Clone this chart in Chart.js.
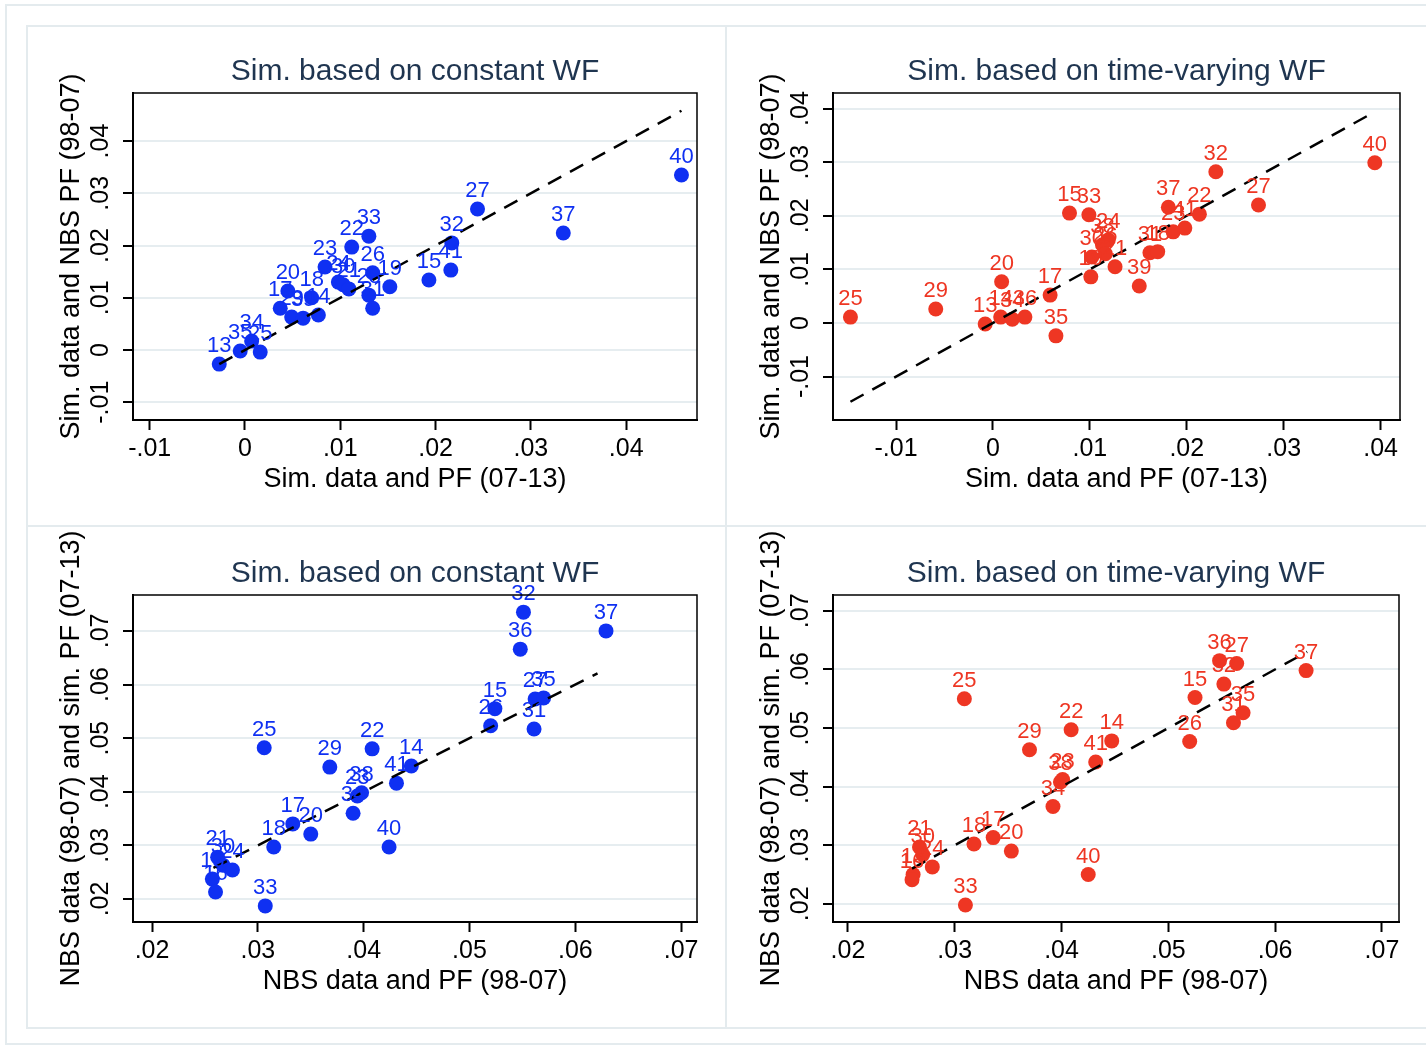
<!DOCTYPE html>
<html>
<head>
<meta charset="utf-8">
<script src="https://cdn.jsdelivr.net/npm/chart.js"></script>
<style>
  body { margin: 0; background: #fff; width: 1426px; height: 1048px; overflow: hidden; position: relative; }
  .frame { position: absolute; border: 2px solid #e4ebee; box-sizing: border-box; }
  canvas { position: absolute; }
</style>
</head>
<body>
<div class="frame" style="left:5px;top:4px;width:1440px;height:1041px"></div>
<div class="frame" style="left:26px;top:25px;width:701px;height:502px"></div>
<div class="frame" style="left:725px;top:25px;width:720px;height:502px"></div>
<div class="frame" style="left:26px;top:525px;width:701px;height:504px"></div>
<div class="frame" style="left:725px;top:525px;width:720px;height:504px"></div>

<canvas id="tl" width="698" height="500" style="left:27px;top:26px"></canvas>
<canvas id="tr" width="698" height="500" style="left:727px;top:26px"></canvas>
<canvas id="bl" width="698" height="500" style="left:27px;top:528px"></canvas>
<canvas id="br" width="698" height="500" style="left:727px;top:528px"></canvas>

<script>
const FONT = '"Liberation Sans", Arial, Helvetica, sans-serif';
const BLUE = '#0f30f2';
const RED = '#ee3623';

// top row: sim. data (07-13) vs sim. data (98-07)
const tlIds = [13, 35, 34, 25, 17, 20, 29, 39, 18, 14, 23, 24, 30, 21, 22, 33, 26, 28, 31, 19, 15, 41, 32, 27, 37, 40];
const tlX = [-0.0027, -0.0005, 0.0007, 0.0016, 0.0037, 0.0045, 0.0049, 0.0061, 0.0070, 0.0077, 0.0084, 0.0098, 0.0103, 0.0109, 0.0112, 0.0130, 0.0134, 0.0130, 0.0134, 0.0152, 0.0193, 0.0216, 0.0217, 0.0244, 0.0334, 0.0458];
const tlY = [-0.0027, -0.0002, 0.0017, -0.0004, 0.0080, 0.0113, 0.0063, 0.0061, 0.0100, 0.0067, 0.0159, 0.0130, 0.0125, 0.0117, 0.0197, 0.0218, 0.0148, 0.0105, 0.0080, 0.0121, 0.0134, 0.0153, 0.0205, 0.0270, 0.0224, 0.0335];
const tlFitX = [-0.0027, 0.0458];
const tlFitY = [-0.0027, 0.0458];

const trIds = [25, 29, 13, 14, 34, 36, 20, 17, 35, 15, 33, 24, 30, 38, 26, 19, 21, 39, 31, 18, 23, 41, 37, 22, 32, 27, 40];
const trX = [-0.0147, -0.0059, -0.0008, 0.0008, 0.0020, 0.0033, 0.0009, 0.0059, 0.0065, 0.0079, 0.0099, 0.0119, 0.0102, 0.0113, 0.0116, 0.0101, 0.0126, 0.0151, 0.0162, 0.0170, 0.0186, 0.0198, 0.0181, 0.0213, 0.0230, 0.0274, 0.0394];
const trY = [0.0011, 0.0026, -0.0002, 0.0011, 0.0007, 0.0011, 0.0077, 0.0052, -0.0024, 0.0205, 0.0202, 0.0155, 0.0123, 0.0146, 0.0129, 0.0086, 0.0105, 0.0069, 0.0131, 0.0133, 0.0170, 0.0177, 0.0216, 0.0203, 0.0282, 0.0220, 0.0299];
const trFitX = [-0.0147, 0.0394];
const trFitY = [-0.0147, 0.0394];

// bottom row: NBS data (98-07) vs sim. (07-13)
const blIds = [25, 29, 22, 14, 41, 38, 23, 34, 40, 20, 17, 18, 33, 21, 30, 24, 13, 16, 32, 36, 37, 27, 35, 31, 15, 26];
const blX = [0.0306, 0.0368, 0.0408, 0.0445, 0.0431, 0.0398, 0.0394, 0.0390, 0.0424, 0.0350, 0.0333, 0.0315, 0.0307, 0.0262, 0.0267, 0.0276, 0.0257, 0.0260, 0.0551, 0.0548, 0.0629, 0.0562, 0.0570, 0.0561, 0.0524, 0.0520];
const blY = [0.0482, 0.0446, 0.0480, 0.0448, 0.0416, 0.0398, 0.0392, 0.0360, 0.0297, 0.0321, 0.0340, 0.0297, 0.0187, 0.0278, 0.0263, 0.0254, 0.0237, 0.0213, 0.0735, 0.0666, 0.0700, 0.0573, 0.0575, 0.0517, 0.0555, 0.0523];
const blFitX = [0.0258, 0.0621];
const blFitY = [0.0258, 0.0621];

const brIds = [25, 29, 22, 14, 41, 38, 23, 34, 40, 20, 17, 18, 33, 21, 30, 24, 13, 16, 36, 27, 37, 32, 15, 35, 31, 26];
const brX = [0.0309, 0.0370, 0.0409, 0.0447, 0.0432, 0.0399, 0.0401, 0.0392, 0.0425, 0.0353, 0.0336, 0.0318, 0.0310, 0.0267, 0.0270, 0.0279, 0.0261, 0.0260, 0.0548, 0.0564, 0.0629, 0.0552, 0.0525, 0.0570, 0.0561, 0.0520];
const brY = [0.0550, 0.0463, 0.0497, 0.0478, 0.0442, 0.0408, 0.0412, 0.0366, 0.0250, 0.0290, 0.0313, 0.0302, 0.0198, 0.0297, 0.0284, 0.0263, 0.0250, 0.0241, 0.0615, 0.0610, 0.0598, 0.0575, 0.0552, 0.0526, 0.0509, 0.0477];
const brFitX = [0.0260, 0.0630];
const brFitY = [0.0260, 0.0630];

// ticks
const topXTicks = [-0.01, 0, 0.01, 0.02, 0.03, 0.04];
const topXLabels = ['-.01', '0', '.01', '.02', '.03', '.04'];
const topYTicks = [-0.01, 0, 0.01, 0.02, 0.03, 0.04];
const topYLabels = ['-.01', '0', '.01', '.02', '.03', '.04'];
const botTicks = [0.02, 0.03, 0.04, 0.05, 0.06, 0.07];
const botLabels = ['.02', '.03', '.04', '.05', '.06', '.07'];

// draws box, title, rotated y tick labels and marker labels
const decor = {
  id: 'decor',
  afterDatasetsDraw(chart, args, o) {
    const ctx = chart.ctx;
    const meta = chart.getDatasetMeta(1);
    ctx.save();
    ctx.font = '22px ' + FONT;
    ctx.fillStyle = o.color;
    ctx.textAlign = 'center';
    ctx.textBaseline = 'middle';
    meta.data.forEach((pt, i) => {
      ctx.fillText(String(o.ids[i]), pt.x, pt.y - 18);
    });
    ctx.restore();
  },
  afterDraw(chart, args, o) {
    const { ctx, chartArea: a, scales } = chart;
    ctx.save();
    ctx.strokeStyle = '#000';
    ctx.lineWidth = 1.5;
    ctx.beginPath();
    ctx.moveTo(a.left, a.top);
    ctx.lineTo(a.right, a.top);
    ctx.lineTo(a.right, a.bottom);
    ctx.stroke();

    ctx.fillStyle = '#1f3550';
    ctx.font = '30px ' + FONT;
    ctx.textAlign = 'center';
    ctx.textBaseline = 'middle';
    ctx.fillText(o.title, (a.left + a.right) / 2, 46);

    ctx.fillStyle = '#000';
    ctx.font = '25px ' + FONT;
    o.yTicks.forEach((v, i) => {
      const py = scales.y.getPixelForValue(v);
      ctx.save();
      ctx.translate(74, py);
      ctx.rotate(-Math.PI / 2);
      ctx.fillText(o.yLabels[i], 0, 0);
      ctx.restore();
    });
    ctx.restore();
  }
};

function panel(id, p) {
  const pts = p.xs.map((x, i) => ({ x: x, y: p.ys[i] }));
  const fit = p.fitX.map((x, i) => ({ x: x, y: p.fitY[i] }));
  new Chart(document.getElementById(id), {
    type: 'scatter',
    data: {
      datasets: [
        { data: fit, showLine: true, borderColor: '#000', borderWidth: 2.5, borderDash: [15, 10], pointRadius: 0, fill: false },
        { data: pts, pointRadius: 7.5, pointHoverRadius: 7.5, backgroundColor: p.color, borderWidth: 0 }
      ]
    },
    options: {
      responsive: false,
      animation: false,
      devicePixelRatio: 1,
      layout: { padding: { left: 0, right: p.padRight, top: 67, bottom: 0 } },
      plugins: {
        legend: { display: false },
        tooltip: { enabled: false },
        decor: { ids: p.ids, color: p.color, title: p.title, yTicks: p.yTicks, yLabels: p.yLabels }
      },
      scales: {
        x: {
          type: 'linear', min: p.xMin, max: p.xMax,
          afterBuildTicks: s => { s.ticks = p.xTicks.map(v => ({ value: v })); },
          afterFit: s => { s.height = 106; },
          ticks: {
            autoSkip: false, maxRotation: 0, padding: 4, color: '#000',
            font: { family: FONT, size: 25 },
            callback: v => p.xLabels[p.xTicks.findIndex(t => Math.abs(t - v) < 1e-9)]
          },
          grid: { drawOnChartArea: false, tickLength: 10, tickColor: '#000', tickWidth: 2 },
          border: { display: true, color: '#000', width: 2 },
          title: { display: true, text: p.xTitle, color: '#000', font: { family: FONT, size: 27 }, padding: { top: 0, bottom: 30 } }
        },
        y: {
          type: 'linear', min: p.yMin, max: p.yMax,
          afterBuildTicks: s => { s.ticks = p.yTicks.map(v => ({ value: v })); },
          afterFit: s => { s.width = 106; },
          ticks: { display: false },
          grid: { color: '#e6edf0', lineWidth: 2, tickLength: 10, tickColor: '#000', tickWidth: 2 },
          border: { display: true, color: '#000', width: 2 },
          title: { display: true, text: p.yTitle, color: '#000', font: { family: FONT, size: 27 }, padding: { top: 28, bottom: 0 } }
        }
      }
    },
    plugins: [decor]
  });
}

panel('tl', {
  ids: tlIds, xs: tlX, ys: tlY, fitX: tlFitX, fitY: tlFitY, color: BLUE,
  title: 'Sim. based on constant WF',
  xTitle: 'Sim. data and PF (07-13)', yTitle: 'Sim. data and NBS PF (98-07)',
  xMin: -0.01175, xMax: 0.04743, yMin: -0.0134, yMax: 0.0492,
  xTicks: topXTicks, xLabels: topXLabels, yTicks: topYTicks, yLabels: topYLabels, padRight: 28
});
panel('tr', {
  ids: trIds, xs: trX, ys: trY, fitX: trFitX, fitY: trFitY, color: RED,
  title: 'Sim. based on time-varying WF',
  xTitle: 'Sim. data and PF (07-13)', yTitle: 'Sim. data and NBS PF (98-07)',
  xMin: -0.0165, xMax: 0.042, yMin: -0.0181, yMax: 0.0429,
  xTicks: topXTicks, xLabels: topXLabels, yTicks: topYTicks, yLabels: topYLabels, padRight: 25
});
panel('bl', {
  ids: blIds, xs: blX, ys: blY, fitX: blFitX, fitY: blFitY, color: BLUE,
  title: 'Sim. based on constant WF',
  xTitle: 'NBS data and PF (98-07)', yTitle: 'NBS data (98-07) and sim. PF (07-13)',
  xMin: 0.0182, xMax: 0.0715, yMin: 0.0157, yMax: 0.0767,
  xTicks: botTicks, xLabels: botLabels, yTicks: botTicks, yLabels: botLabels, padRight: 28
});
panel('br', {
  ids: brIds, xs: brX, ys: brY, fitX: brFitX, fitY: brFitY, color: RED,
  title: 'Sim. based on time-varying WF',
  xTitle: 'NBS data and PF (98-07)', yTitle: 'NBS data (98-07) and sim. PF (07-13)',
  xMin: 0.0186, xMax: 0.0716, yMin: 0.0169, yMax: 0.0727,
  xTicks: botTicks, xLabels: botLabels, yTicks: botTicks, yLabels: botLabels, padRight: 26
});
</script>
</body>
</html>
